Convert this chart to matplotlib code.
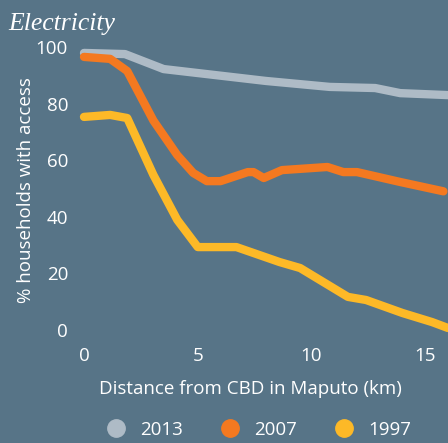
import matplotlib.pyplot as plt
from matplotlib.lines import Line2D

bg = '#577487'
col_2013 = '#AEBBC6'
col_2007 = '#F47920'
col_1997 = '#FDB927'

x_2013 = [0, 1.8, 3.5, 8.0, 10.8, 12.8, 13.9, 16.0]
y_2013 = [97.9, 97.5, 92.2, 88.0, 85.9, 85.5, 83.7, 83.0]

x_2007 = [0, 1.15, 1.9, 3.05, 4.1, 4.8, 5.4, 6.0, 7.2, 7.45, 7.9, 8.7, 10.7, 11.4, 12.0, 13.9, 15.8]
y_2007 = [96.5, 95.8, 91.5, 74.0, 61.8, 55.5, 52.6, 52.6, 55.8, 55.8, 53.7, 56.5, 57.6, 55.8, 55.8, 52.3, 49.0]

x_1997 = [0, 1.15, 1.9, 3.05, 4.1, 5.0, 6.7, 8.6, 9.5, 11.6, 12.4, 14.0, 15.3, 16.0]
y_1997 = [75.3, 76.0, 74.9, 54.8, 38.9, 29.3, 29.3, 24.0, 21.9, 11.7, 10.6, 6.0, 2.8, 0.7]

years = ['2013', '2007', '1997']
colors = [col_2013, col_2007, col_1997]

plt.rcParams['font.family'] = ['Open Sans', 'DejaVu Sans']
fs = 13.5

fig = plt.figure(figsize=(4.48, 4.43), dpi=100, facecolor=bg)
ax = fig.add_axes([84 / 448, 1 - 330 / 443, 364 / 448, 283 / 443])
ax.set_facecolor(bg)

for xs, ys, c in [(x_2013, y_2013, col_2013), (x_2007, y_2007, col_2007), (x_1997, y_1997, col_1997)]:
    ax.plot(xs, ys, color=c, lw=6, solid_capstyle='round', solid_joinstyle='round', clip_on=False)

ax.set_xlim(0, 16)
ax.set_ylim(0, 100)
ax.set_xticks([0, 5, 10, 15])
ax.set_yticks([0, 20, 40, 60, 80, 100])
ax.tick_params(length=0, labelsize=fs, colors='white')
ax.tick_params(axis='y', pad=11.5)
ax.tick_params(axis='x', pad=12)
for s in ax.spines.values():
    s.set_visible(False)

fig.text(26 / 448, 1 - 190 / 443, '% households with access', rotation=90,
         ha='center', va='center', color='white', fontsize=fs)
fig.text(250 / 448, 1 - 389 / 443, 'Distance from CBD in Maputo (km)',
         ha='center', va='center', color='white', fontsize=fs)
fig.text(8 / 448, 1 - 24 / 443, 'Electricity', family='Liberation Serif', style='italic',
         ha='left', va='center', color='white', fontsize=18.5)

handles = [Line2D([], [], marker='o', ls='none', markersize=12.5, color=c) for c in colors]
fig.legend(handles, years, loc='center', bbox_to_anchor=(254 / 448, 1 - 430 / 443),
           ncol=3, frameon=False, labelcolor='white', fontsize=fs,
           handletextpad=0.3, columnspacing=1.5)

fig.savefig('out.png', dpi=100, facecolor=bg)
